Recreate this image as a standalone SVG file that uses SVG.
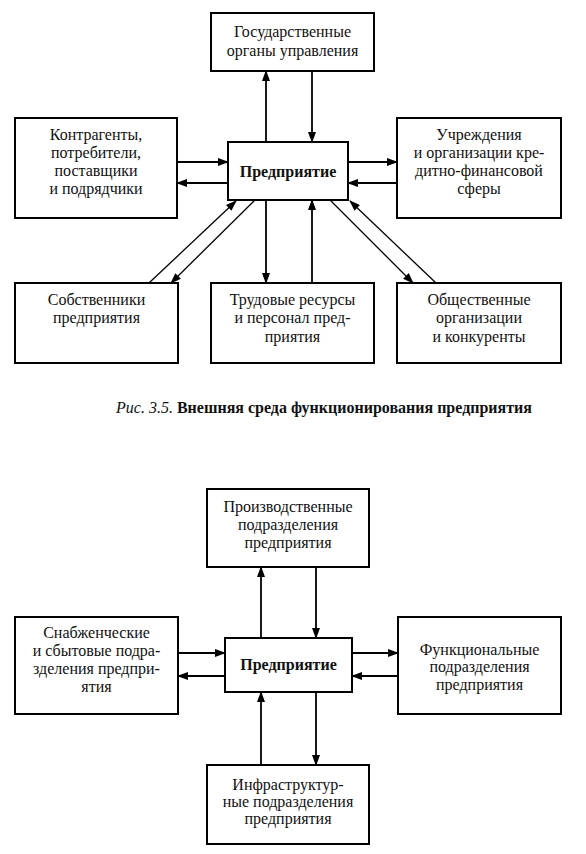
<svg xmlns="http://www.w3.org/2000/svg" width="586" height="854" viewBox="0 0 586 854">
<style>
.box{fill:#fff;stroke:#000;stroke-width:2}
.t{font-family:"Liberation Serif","Tinos","DejaVu Serif",serif;font-size:16px;text-anchor:middle;fill:#111}
.b{font-weight:bold}
.c{stroke:#000;stroke-width:1.8;fill:none;marker-end:url(#ah)}
.d{stroke:#000;stroke-width:1.3;fill:none;marker-end:url(#ah)}
</style>
<defs>
<marker id="ah" markerUnits="userSpaceOnUse" markerWidth="11" markerHeight="8" refX="10" refY="4" orient="auto">
<path d="M0,0 L11,4 L0,8 z" fill="#000"/>
</marker>
</defs>
<rect width="586" height="854" fill="#fff"/>

<g id="connectors1">
<path class="c" d="M266,142 V71"/>
<path class="c" d="M312,71 V142"/>
<path class="c" d="M177,162 H228"/>
<path class="c" d="M228,183 H177"/>
<path class="c" d="M348,162 H397"/>
<path class="c" d="M397,183 H348"/>
<path class="c" d="M266,200 V283"/>
<path class="c" d="M312,283 V200"/>
<path class="d" d="M149,283 L236,201"/>
<path class="d" d="M255,200 L171,283"/>
<path class="d" d="M330,200 L413,283"/>
<path class="d" d="M436,283 L350,201"/>
</g>

<g id="gov">
<rect class="box" x="211" y="13" width="163" height="58"/>
<text class="t" x="292.5" y="37">Государственные</text>
<text class="t" x="292.5" y="56">органы управления</text>
</g>
<g id="contr">
<rect class="box" x="15" y="118" width="162" height="100"/>
<text class="t" x="96" y="140">Контрагенты,</text>
<text class="t" x="96" y="158">потребители,</text>
<text class="t" x="96" y="176">поставщики</text>
<text class="t" x="96" y="194">и подрядчики</text>
</g>
<g id="ent1">
<rect class="box" x="228" y="142" width="120" height="58"/>
<text class="t b" x="288" y="177">Предприятие</text>
</g>
<g id="fin">
<rect class="box" x="397" y="118" width="164" height="100"/>
<text class="t" x="479" y="140">Учреждения</text>
<text class="t" x="479" y="158">и организации кре-</text>
<text class="t" x="479" y="176">дитно-финансовой</text>
<text class="t" x="479" y="194">сферы</text>
</g>
<g id="owners">
<rect class="box" x="15" y="283" width="163" height="80"/>
<text class="t" x="96.5" y="305">Собственники</text>
<text class="t" x="96.5" y="323">предприятия</text>
</g>
<g id="labor">
<rect class="box" x="211" y="283" width="163" height="80"/>
<text class="t" x="292.5" y="305">Трудовые ресурсы</text>
<text class="t" x="292.5" y="323">и персонал пред-</text>
<text class="t" x="292.5" y="342">приятия</text>
</g>
<g id="public">
<rect class="box" x="397" y="283" width="164" height="80"/>
<text class="t" x="479" y="305">Общественные</text>
<text class="t" x="479" y="323">организации</text>
<text class="t" x="479" y="342">и конкуренты</text>
</g>
<text class="t" x="324" y="413"><tspan font-style="italic">Рис. 3.5.</tspan><tspan font-weight="bold"> Внешняя среда функционирования предприятия</tspan></text>

<g id="connectors2">
<path class="c" d="M261,638 V567"/>
<path class="c" d="M316,567 V638"/>
<path class="c" d="M178,653 H225"/>
<path class="c" d="M225,676 H178"/>
<path class="c" d="M352,653 H398"/>
<path class="c" d="M398,676 H352"/>
<path class="c" d="M261,765 V692"/>
<path class="c" d="M316,692 V765"/>
</g>

<g id="prod">
<rect class="box" x="207" y="489" width="162" height="78"/>
<text class="t" x="288" y="512">Производственные</text>
<text class="t" x="288" y="530">подразделения</text>
<text class="t" x="288" y="548">предприятия</text>
</g>
<g id="supply">
<rect class="box" x="15" y="617" width="163" height="97"/>
<text class="t" x="96.5" y="638">Снабженческие</text>
<text class="t" x="96.5" y="656">и сбытовые подра-</text>
<text class="t" x="96.5" y="674">зделения предпри-</text>
<text class="t" x="96.5" y="692">ятия</text>
</g>
<g id="ent2">
<rect class="box" x="225" y="638" width="127" height="54"/>
<text class="t b" x="288.5" y="670">Предприятие</text>
</g>
<g id="func">
<rect class="box" x="398" y="617" width="163" height="97"/>
<text class="t" x="479.5" y="655">Функциональные</text>
<text class="t" x="479.5" y="672">подразделения</text>
<text class="t" x="479.5" y="690">предприятия</text>
</g>
<g id="infra">
<rect class="box" x="207" y="765" width="162" height="79"/>
<text class="t" x="288" y="790">Инфраструктур-</text>
<text class="t" x="288" y="807">ные подразделения</text>
<text class="t" x="288" y="824">предприятия</text>
</g>
</svg>
